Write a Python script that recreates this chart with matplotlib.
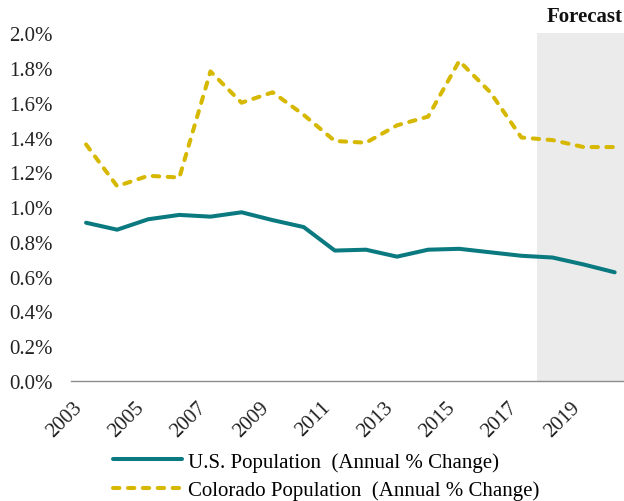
import matplotlib
matplotlib.use("Agg")
import matplotlib.pyplot as plt
import numpy as np
from matplotlib.ticker import FuncFormatter

# data (annual % change)
years = list(range(2003, 2021))
us_pop = [0.91, 0.87, 0.93, 0.955, 0.945, 0.97, 0.925, 0.885, 0.75, 0.755,
          0.715, 0.755, 0.76, 0.74, 0.72, 0.71, 0.67, 0.625]
co_pop = [1.36, 1.12, 1.18, 1.17, 1.78, 1.60, 1.66, 1.53, 1.38, 1.37,
          1.47, 1.52, 1.84, 1.66, 1.40, 1.385, 1.345, 1.345]
forecast_start = 2018

teal = "#0A7A80"
gold = "#D6B800"

plt.rcParams["font.family"] = ["Liberation Serif", "DejaVu Serif"]
fs = 15

fig = plt.figure(figsize=(6.24, 5.02), dpi=100, facecolor="w")
ax = fig.add_axes([0.113, 0.239, 0.897, 0.693])

x = np.arange(len(years))
fi = years.index(forecast_start)
ax.axvspan(fi - 0.5, len(years) - 0.5, color="#EBEBEB", lw=0, zorder=0)

ax.plot(x, us_pop, color=teal, lw=2.9, solid_capstyle="round",
        label="U.S. Population  (Annual % Change)", zorder=3)
ax.plot(x, co_pop, color=gold, lw=2.9, dashes=(1.6, 2.1), dash_capstyle="round",
        label="Colorado Population  (Annual % Change)", zorder=3)

ax.set_xlim(-0.5, len(years) - 0.5)
ax.set_ylim(0, 2.0)
ax.set_yticks(np.arange(0, 2.01, 0.2))
ax.yaxis.set_major_formatter(FuncFormatter(lambda v, p: f"{v:.1f}%"))
ax.set_xticks(x[::2], labels=[str(y) for y in years[::2]], rotation=45, ha="right")
ax.tick_params(axis="both", length=0, labelsize=fs, colors="#222222")
ax.tick_params(axis="y", pad=13)
ax.tick_params(axis="x", pad=12)

for s in ["top", "right", "left"]:
    ax.spines[s].set_visible(False)
ax.spines["bottom"].set_color("#8C8C8C")
ax.spines["bottom"].set_linewidth(1.0)

ax.text(fi - 0.5 + 0.3, 2.04, "Forecast", fontsize=15, fontweight="bold",
        color="#111111", ha="left", va="bottom", clip_on=False)

fig.legend(loc="upper left", bbox_to_anchor=(113 / 624, 1 - 453 / 502),
           frameon=False, fontsize=fs, handlelength=3.3, handletextpad=0.3,
           labelspacing=0.4, borderpad=0, borderaxespad=0)

fig.savefig("out.png", dpi=100, facecolor="w")
